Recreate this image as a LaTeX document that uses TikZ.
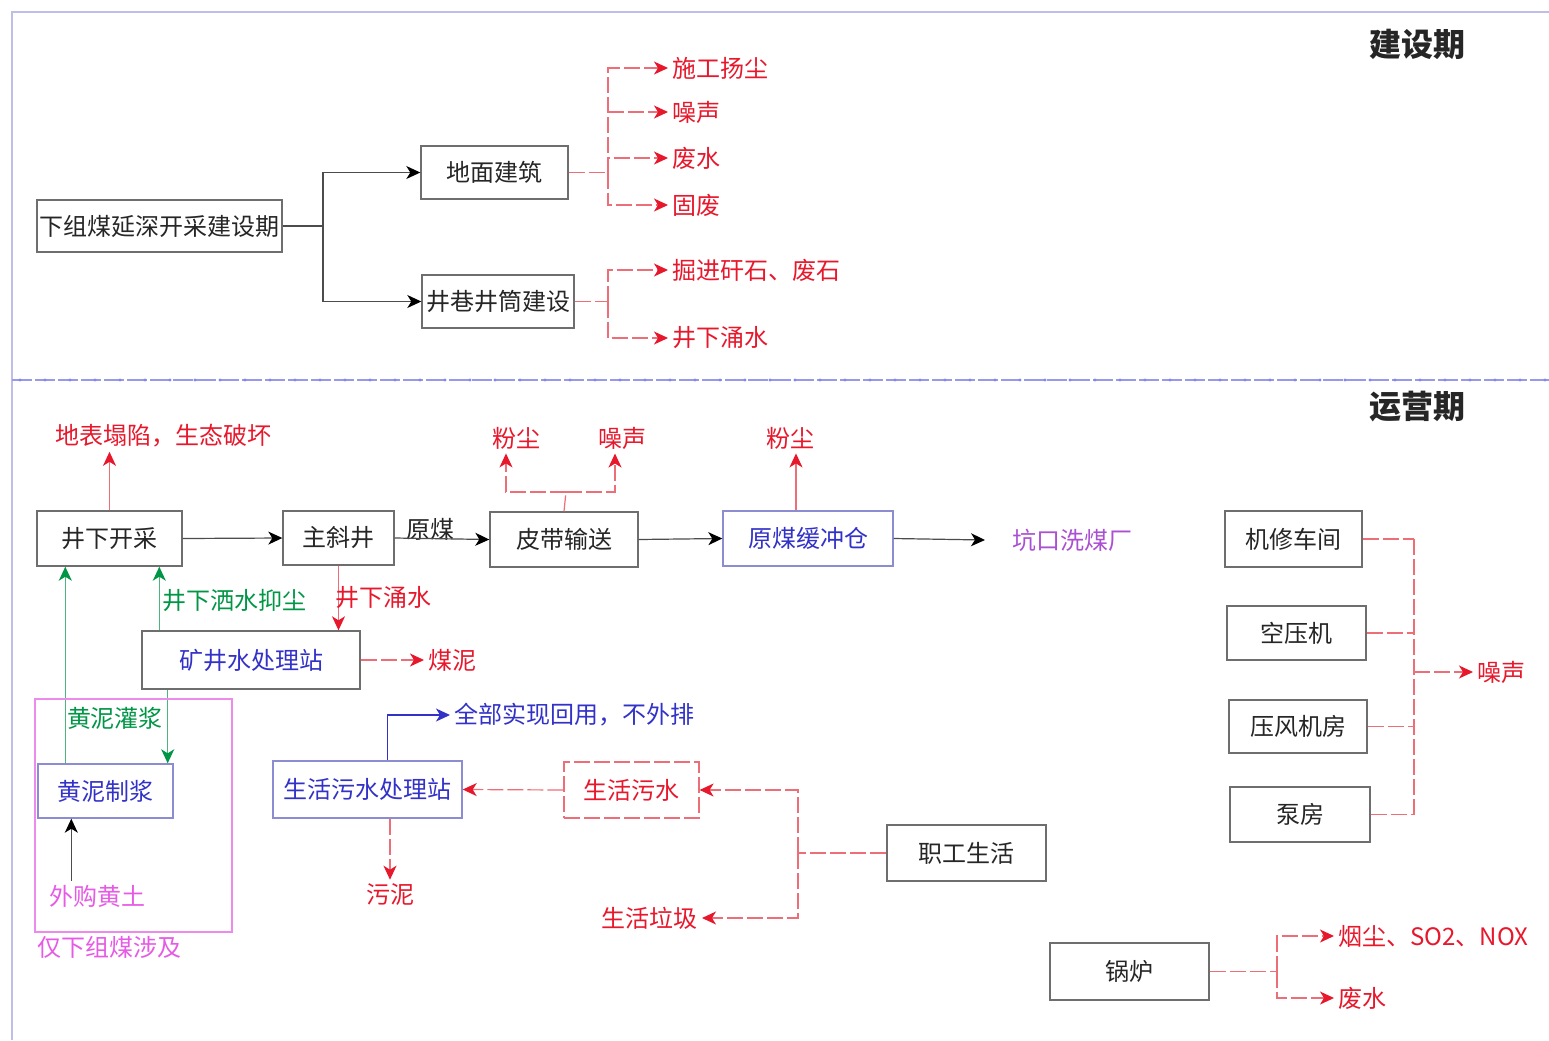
\documentclass[tikz,border=0pt]{standalone}
\usepackage{fontspec}
\newfontfamily\cjk{Noto Sans CJK SC}
\usetikzlibrary{arrows.meta,calc}
\definecolor{rd}{RGB}{232,24,44}
\definecolor{rdl}{RGB}{238,110,120}
\definecolor{blu}{RGB}{50,50,200}
\definecolor{bbord}{RGB}{140,140,210}
\definecolor{grn}{RGB}{0,150,70}
\definecolor{pur}{RGB}{170,80,210}
\definecolor{mag}{RGB}{230,90,230}
\definecolor{gbord}{RGB}{110,110,110}
\definecolor{frm}{RGB}{190,190,232}
\tikzset{
  txt/.style={font=\cjk\fontsize{12}{14}\selectfont, inner sep=2pt},
  box/.style={txt, draw=gbord, line width=0.7pt, inner sep=0pt, text=black!85},
  bbox/.style={box, draw=bbord, text=blu},
  rlab/.style={txt, text=rd},
  tipshape/.style={},
  blk/.style={draw=black!70, line width=0.6pt},
  blkarr/.style={blk, -{Stealth[length=7pt,width=6.5pt,inset=2pt,color=black]}},
  rdash/.style={draw=rdl, line width=0.6pt, dash pattern=on 8pt off 2pt},
  rline/.style={draw=rdl, line width=0.6pt},
  rarr/.style={-{Stealth[length=7pt,width=6.5pt,inset=2pt,color=rd]}},
  garr/.style={draw=grn!70, line width=0.6pt, -{Stealth[length=7pt,width=6.5pt,inset=2pt,color=grn]}},
  barr/.style={draw=blu, line width=0.6pt, -{Stealth[length=7pt,width=6.5pt,inset=2pt,color=blu]}},
  title/.style={font=\cjk\bfseries\fontsize{16}{18}\selectfont, text=black!85}
}
\begin{document}
\begin{tikzpicture}[x=0.5pt,y=-0.5pt]
\useasboundingbox[fill=white] (0,0) rectangle (1549,1040);
% frame
\draw[frm, line width=0.8pt] (12,1040) -- (12,12) -- (1549,12);
\draw[frm!80!blue, line width=0.8pt, dash pattern=on 10pt off 1.5pt] (12,380) -- (1549,380);
\foreach \i in {0,...,61} {\fill[frm!70!blue] (20+\i*25,380) circle (1.6);}
% titles
\node[title] (t1) at (1417,44) {建设期};
\node[title] (t2) at (1417,407) {运营期};

% ---------- construction ----------
\node[box, minimum width=122.5pt, minimum height=26pt] (n1) at (159.5,226) {下组煤延深开采建设期};
\node[box, minimum width=73.5pt, minimum height=26.5pt] (dm) at (494.5,172.5) {地面建筑};
\node[box, minimum width=76pt, minimum height=26.5pt] (jx) at (498,301.5) {井巷井筒建设};
\coordinate (b1) at (323,226);
\draw[blk] (n1.east) -- (b1);
\draw[blkarr] (b1) |- (dm.west);
\draw[blkarr] (b1) |- (jx.west);

\node[rlab, anchor=west] (o1) at (668,68) {施工扬尘};
\node[rlab, anchor=west] (o2) at (668,112) {噪声};
\node[rlab, anchor=west] (o3) at (668,158) {废水};
\node[rlab, anchor=west] (o4) at (668,205) {固废};
\coordinate (r1) at (608,172.5);
\draw[rdash] (dm.east) -- (r1);
\foreach \p in {o1,o2,o3,o4} {\draw[rdash,rarr] (r1) |- (\p.west);}

\node[rlab, anchor=west] (o5) at (668,270) {掘进矸石、废石};
\node[rlab, anchor=west] (o6) at (668,338) {井下涌水};
\coordinate (r2) at (608,301.5);
\draw[rdash] (jx.east) -- (r2);
\draw[rdash,rarr] (r2) |- (o5.west);
\draw[rdash,rarr] (r2) |- (o6.west);

% ---------- operation ----------
\node[rlab] (dbtx) at (163,436) {地表塌陷，生态破坏};
\node[box, minimum width=72.5pt, minimum height=27.5pt] (jxkc) at (109.5,538.5) {井下开采};
\node[box, minimum width=55.5pt, minimum height=27pt] (zxj) at (338.5,538) {主斜井};
\node[box, minimum width=74pt, minimum height=27.5pt] (pd) at (564,539.5) {皮带输送};
\node[bbox, minimum width=85pt, minimum height=27.5pt] (ym) at (808,538.5) {原煤缓冲仓};
\node[txt, text=black!85] (yml) at (430,529) {原煤};
\node[txt, text=pur, anchor=west] (kk) at (1008,540) {坑口洗煤厂};
\coordinate (kka) at (985,540);

\draw[rline,rarr] (jxkc.north) -- (jxkc.north |- dbtx.south);
\draw[blkarr] (jxkc.east) -- (zxj.west);
\draw[blkarr] (zxj.east) -- (pd.west);
\draw[blkarr] (pd.east) -- (ym.west);
\draw[blkarr] (ym.east) -- (kka);

\node[rlab] (fc1) at (516,438) {粉尘};
\node[rlab] (zs1) at (622,438) {噪声};
\coordinate (pb) at (566,492);
\draw[rdash] (pd.north) -- (pb);
\draw[rdash,rarr] (pb) -| ($(fc1.south)+(-10,0)$);
\draw[rdash,rarr] (pb) -| ($(zs1.south)+(-7,0)$);

\node[rlab] (fc2) at (790,438) {粉尘};
\draw[rline,rarr] ($(ym.north)+(-12,0)$) -- ($(fc2.south)+(6,0)$);

% mine water
\node[box, text=blu, minimum width=109pt, minimum height=29pt] (kj) at (251,660) {矿井水处理站};
\draw[rline,rarr] (zxj.south) -- (zxj.south |- kj.north);
\node[rlab] (jxys) at (383,598) {井下涌水};
\node[rlab, anchor=west] (mn) at (424,660) {煤泥};
\draw[rdash,rarr] (kj.east) -- (mn.west);

\node[bbox, minimum width=67.5pt, minimum height=27pt] (hn) at (105.5,791) {黄泥制浆};
\coordinate (ga) at ($(kj.north west)+(18,0)$);
\draw[garr] (ga) -- (ga |- jxkc.south);
\node[txt, text=grn] (jxss) at (234,600) {井下洒水抑尘};
\coordinate (gb) at ($(hn.north west)+(28,0)$);
\draw[garr] (gb) -- (gb |- jxkc.south);
\coordinate (gc) at ($(hn.north east)+(-6,0)$);
\draw[garr] (gc |- kj.south) -- (gc);
\node[txt, text=grn] (hngj) at (115,718) {黄泥灌浆};

\node[txt, text=mag] (wg) at (97,896) {外购黄土};
\coordinate (gd) at ($(hn.south west)+(34,0)$);
\draw[blkarr] (gd |- wg.north) -- (gd);
\node[draw=mag!70, line width=0.6pt, minimum width=98.5pt, minimum height=116.5pt, inner sep=0pt] (reg) at (133.5,815.5) {};
\node[txt, text=mag, anchor=north west] (regl) at (33,932) {仅下组煤涉及};

% domestic sewage
\node[bbox, minimum width=94.5pt, minimum height=28.5pt] (sh) at (367.5,789.5) {生活污水处理站};
\node[txt, text=blu, anchor=west] (qb) at (450,715) {全部实现回用，不外排};
\coordinate (sa) at ($(sh.north)+(20,0)$);
\draw[barr] (sa) |- (qb.west);
\node[rlab] (wn) at (390,895) {污泥};
\draw[rdash,rarr] (wn.north |- sh.south) -- (wn.north);
\node[rlab, draw=rdl, dash pattern=on 8pt off 2pt, line width=0.6pt, inner sep=0pt, minimum width=67.5pt, minimum height=28pt] (shws) at (631.5,790) {生活污水};
\draw[rdash,rarr] (shws.west) -- (sh.east);

\node[box, minimum width=79.5pt, minimum height=28pt] (zg) at (966.5,853) {职工生活};
\node[rlab, anchor=east] (lj) at (702,918) {生活垃圾};
\coordinate (zb) at (798,853);
\draw[rdash] (zg.west) -- (zb);
\draw[rdash,rarr] (zb) |- (shws.east);
\draw[rdash,rarr] (zb) |- (lj.east);

% noise group
\node[box, minimum width=68.5pt, minimum height=28pt] (jx1) at (1293.5,539) {机修车间};
\node[box, minimum width=69.5pt, minimum height=27pt] (kyj) at (1296.5,633) {空压机};
\node[box, minimum width=69pt, minimum height=26.5pt] (yf) at (1298,726.5) {压风机房};
\node[box, minimum width=70pt, minimum height=27.5pt] (bf) at (1300,814.5) {泵房};
\coordinate (nb) at (1414,672);
\foreach \b in {jx1,kyj,yf,bf} {\draw[rdash] (\b.east) -- (\b.east -| nb);}
\draw[rdash] (jx1.east -| nb) -- (bf.east -| nb);
\node[rlab, anchor=west] (zs2) at (1473,672) {噪声};
\draw[rdash,rarr] (nb) -- (zs2.west);

% boiler
\node[box, minimum width=79.5pt, minimum height=28.5pt] (gl) at (1129.5,971.5) {锅炉};
\coordinate (gbx) at (1277,971.5);
\node[rlab, anchor=west] (yc) at (1334,936) {烟尘、SO2、NOX};
\node[rlab, anchor=west] (fs) at (1334,998) {废水};
\draw[rdash] (gl.east) -- (gbx);
\draw[rdash,rarr] (gbx) |- (yc.west);
\draw[rdash,rarr] (gbx) |- (fs.west);
\end{tikzpicture}
\end{document}
